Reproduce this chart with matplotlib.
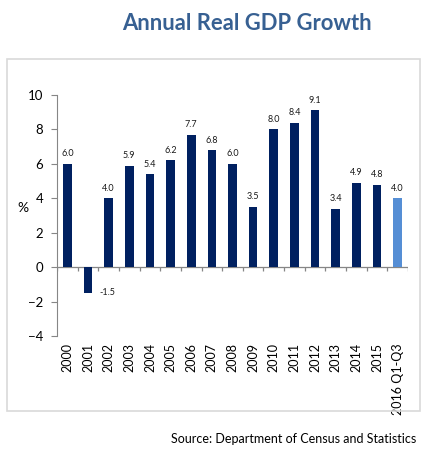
import matplotlib.pyplot as plt
from matplotlib.patches import Rectangle

plt.rcParams['font.family'] = ['Lato', 'DejaVu Sans']

# data
years = ['2000', '2001', '2002', '2003', '2004', '2005', '2006', '2007', '2008',
         '2009', '2010', '2011', '2012', '2013', '2014', '2015', '2016 Q1-Q3']
growth = [6.0, -1.5, 4.0, 5.9, 5.4, 6.2, 7.7, 6.8, 6.0,
          3.5, 8.0, 8.4, 9.1, 3.4, 4.9, 4.8, 4.0]

navy = '#002060'
light = '#558ED5'
colors = [navy] * (len(years) - 1) + [light]

fig = plt.figure(figsize=(4.21, 4.55), dpi=100)

# light grey frame around the chart area
fig.patches.append(Rectangle((7 / 421, 1 - 411 / 455), 420 / 421 - 7 / 421, (411 - 59) / 455,
                             transform=fig.transFigure, fill=False, edgecolor='#D9D9D9', lw=1.2))

ax = fig.add_axes([57 / 421, 1 - 336 / 455, (408 - 57) / 421, (336 - 95) / 455])

x = list(range(len(years)))
ax.bar(x, growth, width=0.42, color=colors, zorder=3)

for xi, v in zip(x, growth):
    if v >= 0:
        ax.annotate(f'{v:.1f}', (xi, v), xytext=(0, 4), textcoords='offset points',
                    ha='center', va='bottom', fontsize=6.5, color='#1a1a1a')
    else:
        ax.annotate(f'{v:.1f}', (xi, v), xytext=(14, 0), textcoords='offset points',
                    ha='center', va='center', fontsize=6.5, color='#1a1a1a')

ax.set_xlim(-0.5, len(years) - 0.5)
ax.set_ylim(-4, 10)
ax.set_yticks(range(-4, 11, 2))
ax.set_xticks(x)
ax.set_xticklabels(years, rotation=90, fontsize=9)
ax.tick_params(axis='x', length=0, pad=5)
ax.tick_params(axis='y', length=4, color='#868686', labelsize=9.5, pad=6)

for s in ['top', 'right', 'bottom']:
    ax.spines[s].set_visible(False)
ax.spines['left'].set_color('#868686')

# zero line with category boundary ticks
ax.axhline(0, color='#868686', lw=0.9, zorder=2)
ax.vlines([k - 0.5 for k in range(len(years) + 1)], -0.25, 0, color='#868686', lw=0.9)

fig.text(23 / 421, 1 - 208 / 455, '%', fontsize=10, ha='center', va='center')

fig.text(247 / 421, 1 - 23 / 455, 'Annual Real GDP Growth', fontsize=15.8, fontweight='bold',
         color='#376092', ha='center', va='center')
fig.text(416 / 421, 1 - 439 / 455, 'Source: Department of Census and Statistics', fontsize=9,
         ha='right', va='center')

fig.savefig('out.png', dpi=100)
